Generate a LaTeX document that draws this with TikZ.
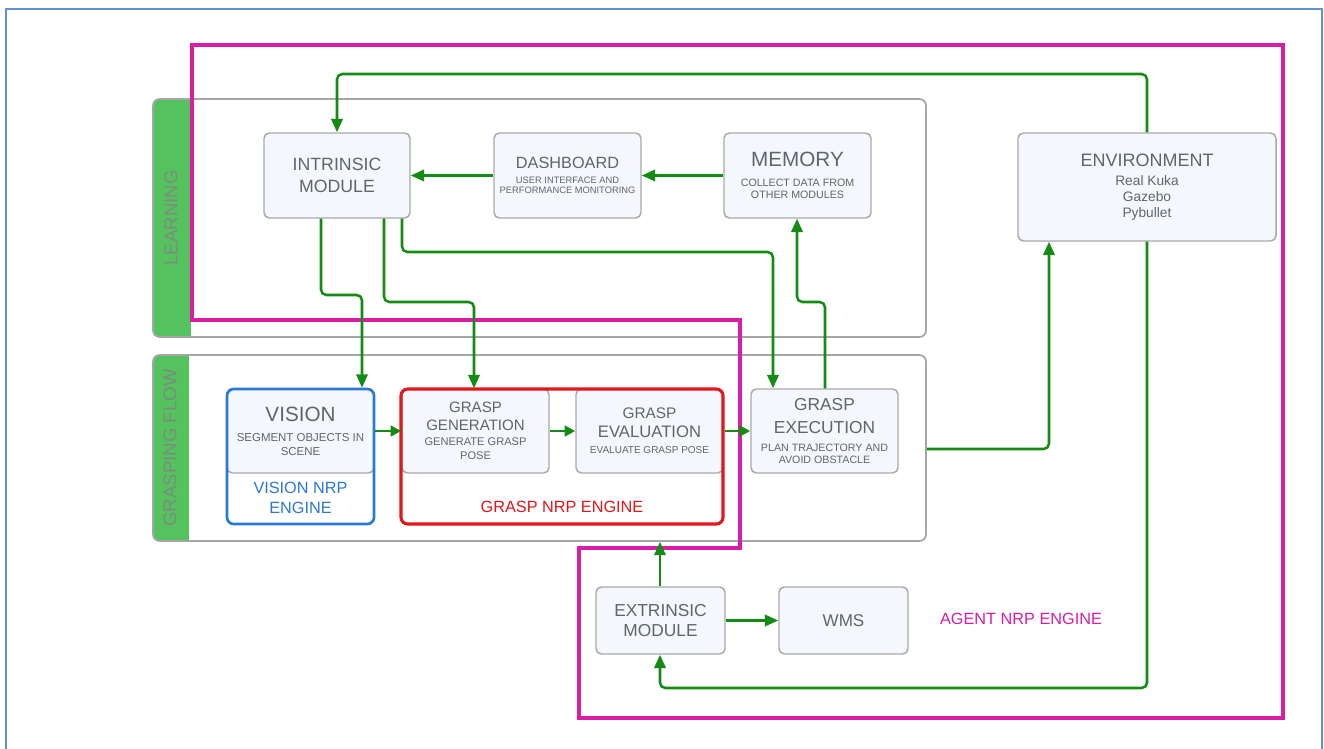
\documentclass[tikz,border=0pt]{standalone}
\usepackage{fontspec}
\setmainfont{Liberation Sans}
\usetikzlibrary{arrows.meta,calc}
\definecolor{txt}{HTML}{5F6570}
\definecolor{boxfill}{HTML}{F4F8FC}
\definecolor{boxborder}{HTML}{A9A9A9}
\definecolor{conborder}{HTML}{A6A6A6}
\definecolor{stripgreen}{HTML}{55C35D}
\definecolor{striptxt}{HTML}{7C8A80}
\definecolor{arrgreen}{HTML}{148B14}
\definecolor{visblue}{HTML}{2B78D8}
\definecolor{grred}{HTML}{E3161B}
\definecolor{agmag}{HTML}{D81DA6}
\definecolor{frameblue}{HTML}{6190CF}
\newcommand{\fsz}[2]{\fontsize{#1}{#2}\selectfont}
\begin{document}
\begin{tikzpicture}[x=0.75pt,y=-0.75pt,
  box/.style={draw=boxborder, fill=boxfill, line width=1.1pt, rounded corners=4pt,
    text=txt, align=center, inner sep=1pt},
  container/.style={draw=conborder, line width=1.3pt, rounded corners=5pt,
    minimum width=579.75pt},
  conn/.style={draw=arrgreen, line width=1.9pt, rounded corners=4pt,
    -{Triangle[length=10pt,width=8.5pt]}},
  shortconn/.style={conn, -{Triangle[length=8pt,width=8pt]}},
  striplabel/.style={text=striptxt, rotate=90, font=\fsz{14}{16}},
  engine/.style={align=center, font=\fsz{12.2}{15}}
]
\useasboundingbox (0,0) rectangle (1324,749);
% outer frame
\draw[frameblue, line width=1.6pt] (6,749) -- (6,9) -- (1322,9) -- (1322,749);

% containers
\begin{scope}
  \clip[rounded corners=5pt] (153,99) rectangle (926,337);
  \fill[stripgreen] (153,99) rectangle (191,337);
\end{scope}
\node[container, minimum height=178.5pt] (learn) at (539.5,218) {};
\node[striplabel] (learnlab) at (171,218) {LEARNING};

\begin{scope}
  \clip[rounded corners=5pt] (153,355) rectangle (926,541);
  \fill[stripgreen] (153,355) rectangle (189,541);
\end{scope}
\node[container, minimum height=139.5pt] (flow) at (539.5,448) {};
\node[striplabel] (flowlab) at (170,448) {GRASPING FLOW};

% agent engine outline
\draw[agmag, line width=2.6pt] (192,45) -- (1283,45) -- (1283,718) -- (579,718)
  -- (579,548) -- (740,548) -- (740,320) -- (192,320) -- cycle;
\node[text=agmag, font=\fsz{12.2}{15}] (agentlab) at (1021,619) {AGENT NRP ENGINE};

% learning nodes
\node[box, minimum width=109.5pt, minimum height=63.75pt, font=\fsz{13.3}{16}] (intr) at (337,175.5)
  {INTRINSIC\\MODULE};
\node[box, minimum width=110.25pt, minimum height=63.75pt, font=\fsz{7}{7.5}] (dash) at (567.5,175.5)
  {{\fsz{12.2}{14}DASHBOARD}\\[3.8pt]USER INTERFACE AND\\PERFORMANCE MONITORING};
\node[box, minimum width=110.25pt, minimum height=63.75pt, font=\fsz{8}{9}] (mem) at (797.5,175.5)
  {{\fsz{15.5}{17}MEMORY}\\[5.5pt]COLLECT DATA FROM\\OTHER MODULES};
\node[box, minimum width=193.5pt, minimum height=81pt, font=\fsz{10.3}{12}] (env) at (1147,187)
  {{\fsz{13.5}{16}ENVIRONMENT}\\[2pt]Real Kuka\\Gazebo\\Pybullet};

% grasping flow nodes
\node[box, minimum width=110.25pt, minimum height=63pt, font=\fsz{8.6}{10.5}] (vis) at (300.5,431)
  {{\fsz{15.5}{18}VISION}\\[4.5pt]SEGMENT OBJECTS IN\\SCENE};
\node[draw=visblue, line width=2pt, rounded corners=5pt, minimum width=110.25pt,
  minimum height=101.25pt] (visout) at (300.5,456.5) {};
\node[engine, text=visblue] (vislab) at (300.5,498) {VISION NRP\\ENGINE};

\node[box, minimum width=110.25pt, minimum height=63pt, font=\fsz{8.3}{10.5}] (gen) at (475.5,431)
  {{\fsz{11.3}{13.5}GRASP}\\[3pt]{\fsz{11.3}{13.5}GENERATION}\\[0.75pt]GENERATE GRASP\\POSE};
\node[box, minimum width=110.25pt, minimum height=63pt, font=\fsz{7.5}{9}] (eval) at (649.5,431)
  {{\fsz{11.5}{14}GRASP}\\[5.25pt]{\fsz{12.5}{14}EVALUATION}\\[3pt]EVALUATE GRASP POSE};
\node[draw=grred, line width=2.3pt, rounded corners=5pt, minimum width=241.5pt,
  minimum height=101.25pt] (red) at (562,456.5) {};
\node[engine, text=grred] (redlab) at (562,507) {GRASP NRP ENGINE};

\node[box, minimum width=110.25pt, minimum height=63pt, font=\fsz{8}{9}] (exec) at (824.5,431)
  {{\fsz{13}{15.5}GRASP}\\[6.75pt]{\fsz{13}{15.5}EXECUTION}\\[4.5pt]PLAN TRAJECTORY AND\\AVOID OBSTACLE};

% bottom nodes
\node[box, minimum width=96.75pt, minimum height=50.25pt, font=\fsz{13}{15}] (ext) at (660.5,620.5)
  {EXTRINSIC\\MODULE};
\node[box, minimum width=96.75pt, minimum height=50.25pt, font=\fsz{12.8}{15}] (wms) at (843.5,620.5)
  {WMS};

% helper coordinates
\coordinate (top) at (0,74);
\coordinate (k0) at (321,295);
\coordinate (k1) at (362,295);
\coordinate (k2) at (402,252);
\coordinate (k3) at (773,252);
\coordinate (k4) at (384,302);
\coordinate (k5) at (474,302);
\coordinate (k6) at (825,302);
\coordinate (k7) at (797,302);
\coordinate (k8) at (1049,449);
\coordinate (k9) at (660,688);

% connectors
\draw[conn] (env.north) -- (env.north |- top) -| (intr.north);
\draw[conn] (dash.west) -- (intr.east);
\draw[conn] (mem.west) -- (dash.east);
\draw[conn] (intr.south -| k0) -- (k0) -- (k1) -- (visout.north -| k1);
\draw[conn] (intr.south -| k4) -- (k4) -- (k5) -- (gen.north -| k5);
\draw[conn] (intr.south -| k2) -- (k2) -- (k3) -- (exec.north -| k3);
\draw[conn] (exec.north -| k6) -- (k6) -- (k7) -- (mem.south -| k7);
\draw[shortconn] (visout.east |- gen.west) -- (gen.west);
\draw[shortconn] (gen.east) -- (eval.west);
\draw[shortconn] (red.east |- eval.east) -- (exec.west);
\draw[conn] (flow.east |- k8) -- (k8) -- (env.south -| k8);
\draw[conn] (env.south) -- (env.south |- k9) -- (k9) -- (ext.south -| k9);
\draw[conn] (ext.north -| k9) -- (flow.south -| k9);
\draw[conn] (ext.east) -- (wms.west);
\end{tikzpicture}
\end{document}
